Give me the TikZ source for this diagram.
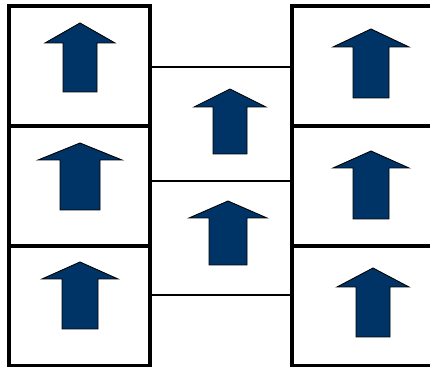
\documentclass[tikz,border=0pt]{standalone}
\usepackage{xcolor}
\usepackage{tikz}
\usetikzlibrary{
    positioning
}
\definecolor{spinblue}{RGB}{0,51,102}

% one up-spin arrow: centre x, tip y, head base y, head half width, shaft half width, bottom y
\newcommand{\spinarrow}[6]{%
  \draw[spin] (#1,#2) -- (#1+#4,#3) -- (#1+#5,#3) -- (#1+#5,#6)
    -- (#1-#5,#6) -- (#1-#5,#3) -- (#1-#4,#3) -- cycle;}

\begin{document}
\begin{tikzpicture}[x=0.02cm,y=-0.02cm]
    \tikzset{
      cell/.style={draw, rectangle, line width=2pt, inner sep=0pt, outer sep=0pt,
                   minimum width=2.82cm, minimum height=2.4cm},
      midcell/.style={cell, line width=1.3pt, minimum width=2.84cm, minimum height=2.28cm},
      spin/.style={fill=spinblue, draw=black, line width=0.5pt}
    }
    \useasboundingbox (0,0) rectangle (430,367);
    % left column
    \node[cell, anchor=north west] (L1) at (9, 6) {};
    \node[cell, below=0pt of L1] (L2) {};
    \node[cell, below=0pt of L2] (L3) {};
    % middle column
    \node[midcell, anchor=north west] (M1) at (150, 67) {};
    \node[midcell, below=0pt of M1] (M2) {};
    % right column, open at the right edge
    \node[cell, anchor=north west, minimum width=3.0cm] (R1) at (292, 6) {};
    \node[cell, below=0pt of R1, minimum width=3.0cm] (R2) {};
    \node[cell, below=0pt of R2, minimum width=3.0cm] (R3) {};

    \spinarrow{80}{23}{43}{35}{17}{92}
    \spinarrow{80}{143}{160}{42}{20}{210}
    \spinarrow{80}{262}{279}{38}{18}{329}

    \spinarrow{230}{89}{107}{36}{17}{154}
    \spinarrow{228}{201}{218}{39}{19}{265}

    \spinarrow{371}{29}{47}{38}{18}{98}
    \spinarrow{371}{151}{168}{38}{18}{219}
    \spinarrow{373}{268}{287}{36}{17}{337}
\end{tikzpicture}
\end{document}
